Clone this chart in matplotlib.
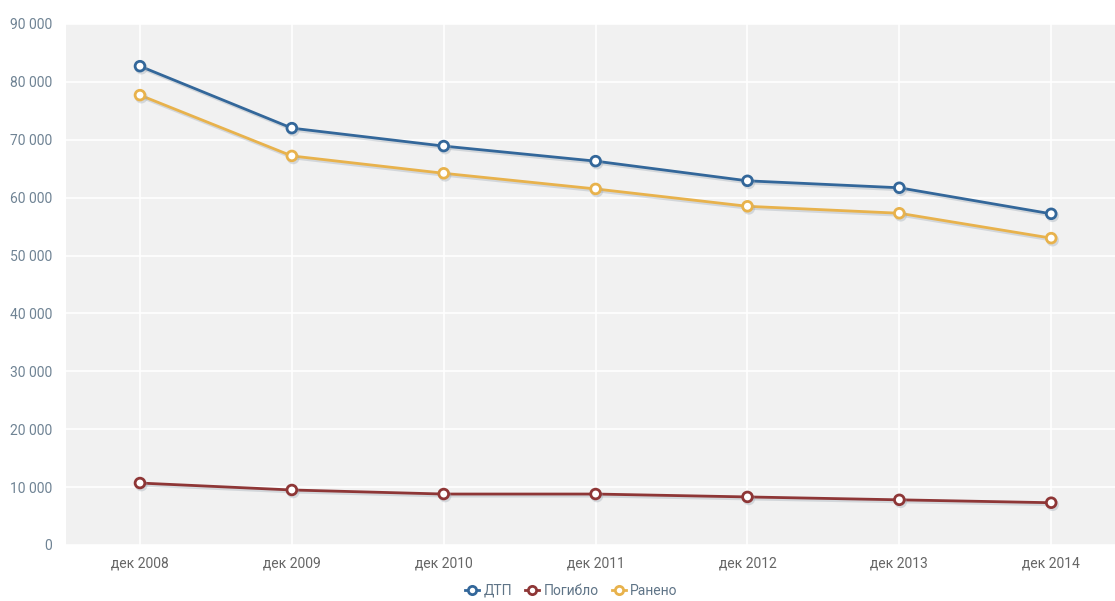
import matplotlib
matplotlib.use("Agg")
import matplotlib.pyplot as plt
import matplotlib.patheffects as pe
from matplotlib.ticker import FuncFormatter

plt.rcParams['font.family'] = ['Roboto', 'DejaVu Sans']

months = ["дек 2008", "дек 2009", "дек 2010", "дек 2011", "дек 2012", "дек 2013", "дек 2014"]
dtp = [82700, 72000, 68900, 66300, 62900, 61700, 57200]
killed = [10700, 9500, 8800, 8800, 8300, 7800, 7300]
injured = [77700, 67200, 64200, 61500, 58500, 57300, 53000]

series = [("ДТП", dtp, "#33679a"), ("Погибло", killed, "#8e3636"), ("Ранено", injured, "#e8b24c")]

fig = plt.figure(figsize=(11.15, 6.01), dpi=100)
ax = fig.add_axes([0.0592, 0.0932, 0.9408, 0.867])
ax.set_facecolor("#f1f1f1")

x = list(range(len(months)))
for name, vals, col in series:
    ax.plot(x, vals, color=col, lw=2.0, marker="o", ms=7, mfc="white", mec=col, mew=2,
            label=name, zorder=3,
            path_effects=[pe.SimpleLineShadow(offset=(1, -1.5), shadow_color="#9aa5b0", alpha=0.35),
                          pe.Normal()])

ax.set_xlim(-0.487, 6.42)
ax.set_ylim(0, 90000)
ax.set_yticks(range(0, 90001, 10000))
ax.yaxis.set_major_formatter(FuncFormatter(lambda v, p: f"{int(v):,}".replace(",", " ")))
ax.set_xticks(x)
ax.set_xticklabels(months)
ax.grid(True, color="white", lw=1.2)
ax.set_axisbelow(True)
for s in ax.spines.values():
    s.set_visible(False)
ax.tick_params(length=0, labelsize=10)
ax.tick_params(axis="y", colors="#6f8394", pad=10)
ax.tick_params(axis="x", colors="#666666", pad=8)

leg = ax.legend(loc="upper center", bbox_to_anchor=(0.482, -0.05), ncol=3, frameon=False,
                fontsize=10, handlelength=1.0, columnspacing=0.9, handletextpad=0.35,
                labelcolor="#5f7487", markerscale=0.85)
for h in leg.legend_handles:
    h.set_path_effects([])

fig.savefig("out.png", dpi=100)
